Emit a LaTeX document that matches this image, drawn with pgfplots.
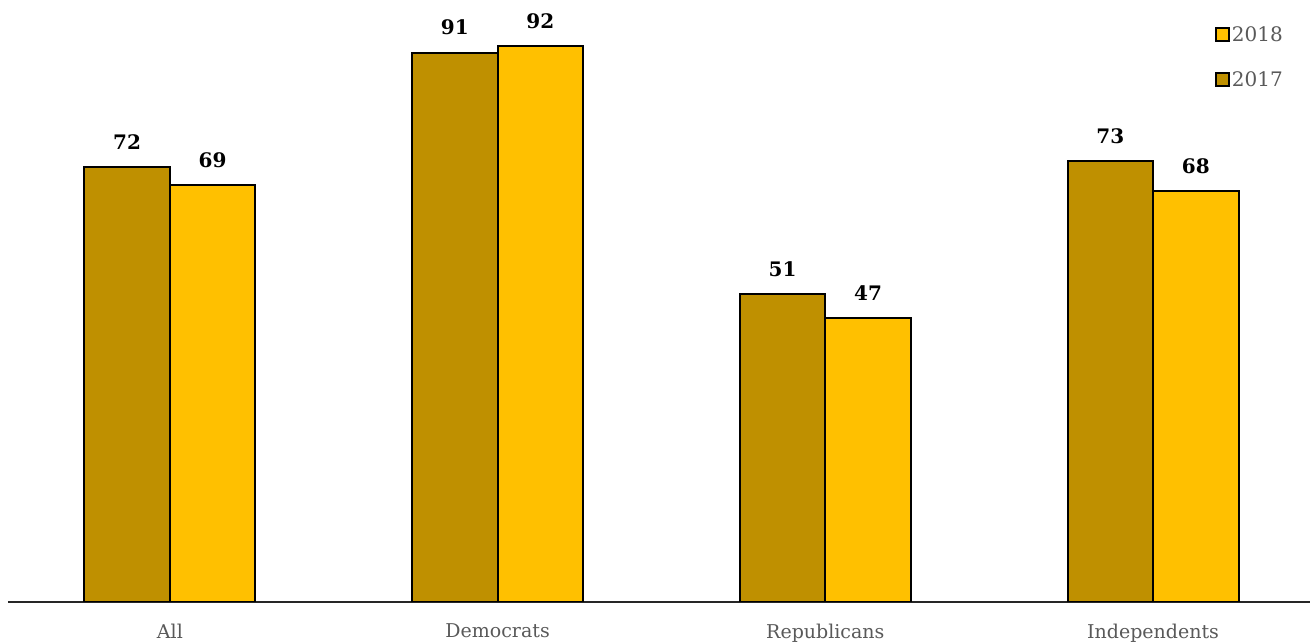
\documentclass[border=0pt]{standalone}
\usepackage{pgfplots}
\pgfplotsset{compat=1.18}
\usepackage{fontspec}
\setmainfont{DejaVu Serif}
\definecolor{c17}{HTML}{BF9000}
\definecolor{c18}{HTML}{FFC000}
\definecolor{lab}{HTML}{595959}
\begin{document}
\begin{tikzpicture}
\begin{axis}[
  scale only axis,
  width=1302pt, height=602pt,
  xmin=-0.494, xmax=3.479,
  ymin=0, ymax=99.7,
  ybar=0pt, bar width=85.5pt,
  /pgf/number format/assume math mode=true,
  axis x line*=bottom,
  hide y axis,
  x axis line style={line width=1.8pt, color=black!85, -},
  xtick=data,
  xticklabels={All,Democrats,Republicans,Independents},
  xtick style={draw=none},
  xticklabel style={font=\fontsize{19}{22}\selectfont, text=lab, yshift=-14pt},
  nodes near coords,
  every node near coord/.append style={font=\fontsize{20}{24}\selectfont\bfseries, text=black, yshift=13pt},
  legend style={draw=none, fill=none, at={(1,1)}, anchor=north east, xshift=-22pt, yshift=-22pt,
    font=\fontsize{20}{24}\selectfont, text=lab, row sep=25pt,
    /tikz/every even column/.append style={column sep=2pt}},
  legend image code/.code={\draw[#1, line width=2pt, draw=black] (0pt,-6.5pt) rectangle (13pt,6.5pt);},
  reverse legend,
]
\addplot[fill=c17, draw=black, line width=2pt] coordinates {(0,72) (1,91) (2,51) (3,73)};
\addplot[fill=c18, draw=black, line width=2pt] coordinates {(0,69) (1,92) (2,47) (3,68)};
\legend{2017,2018}
\end{axis}
\pgfresetboundingbox
\useasboundingbox (-8pt,-42pt) rectangle (1302pt,602pt);
\end{tikzpicture}
\end{document}
